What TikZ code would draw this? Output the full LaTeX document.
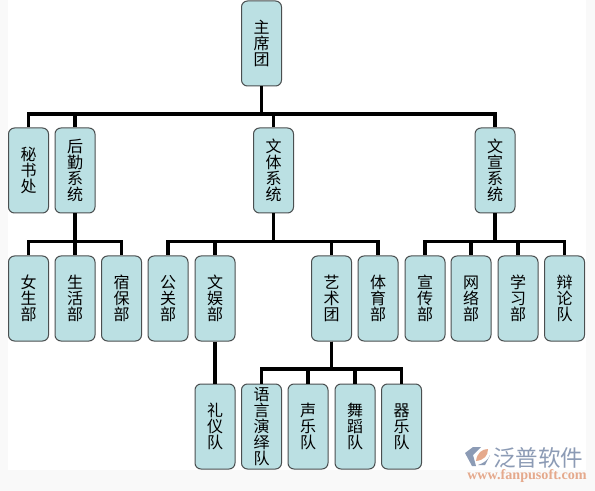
\documentclass[tikz,border=0pt]{standalone}
\usepackage{fontspec}
\setmainfont{Liberation Serif}
\newfontfamily\cjk{Noto Sans CJK SC}
\usetikzlibrary{arrows.meta}
\definecolor{boxfill}{HTML}{BBE0E3}
\definecolor{boxline}{HTML}{4A4F50}
\definecolor{pagegrey}{HTML}{F9F9F9}
\definecolor{logoblue}{HTML}{8C9BB5}
\definecolor{logopeach}{HTML}{E5A98C}
\tikzset{
  orgbox/.style={draw=boxline, fill=boxfill, line width=0.75pt, rounded corners=4.5pt, align=center, minimum width=30pt, minimum height=63.75pt, inner sep=0pt, text=black, font=\cjk\fontsize{12pt}{12pt}\selectfont},
  link/.style={line width=2.4pt, black},
  brandtext/.style={inner sep=0pt, anchor=west, text=logoblue, font=\cjk\fontsize{16.9pt}{18pt}\selectfont},
  urltext/.style={inner sep=0pt, anchor=west, text=logopeach, font=\bfseries\fontsize{10.6pt}{11pt}\selectfont},
}

\begin{document}
\begin{tikzpicture}[x=0.75pt, y=-0.75pt]
    \useasboundingbox (0,0) rectangle (595,491);
    \fill[pagegrey] (0,0) rectangle (595,491);
    \fill[white] (8,0) rectangle (586,470);

    \node[orgbox] (zhuxi) at (261.5,43.5) {主\\席\\团};

    \node[orgbox] (mishu) at (28.5,170.5) {秘\\书\\处};
    \node[orgbox] (houqin) at (75,170.5) {后\\勤\\系\\统};
    \node[orgbox] (wenti) at (273.5,170.5) {文\\体\\系\\统};
    \node[orgbox] (wenxuan) at (495,170.5) {文\\宣\\系\\统};

    \node[orgbox] (nvsheng) at (28.5,298.5) {女\\生\\部};
    \node[orgbox] (shenghuo) at (75,298.5) {生\\活\\部};
    \node[orgbox] (subao) at (121.5,298.5) {宿\\保\\部};
    \node[orgbox] (gongguan) at (168,298.5) {公\\关\\部};
    \node[orgbox] (wenyu) at (215,298.5) {文\\娱\\部};
    \node[orgbox] (yishu) at (331.5,298.5) {艺\\术\\团};
    \node[orgbox] (tiyu) at (378,298.5) {体\\育\\部};
    \node[orgbox] (xuanchuan) at (425,298.5) {宣\\传\\部};
    \node[orgbox] (wangluo) at (471,298.5) {网\\络\\部};
    \node[orgbox] (xuexi) at (518,298.5) {学\\习\\部};
    \node[orgbox] (bianlun) at (564.5,298.5) {辩\\论\\队};

    \node[orgbox] (liyi) at (215,426.5) {礼\\仪\\队};
    \node[orgbox] (yuyan) at (261.5,426.5) {语\\言\\演\\绎\\队};
    \node[orgbox] (shengyue) at (308,426.5) {声\\乐\\队};
    \node[orgbox] (wudao) at (355,426.5) {舞\\蹈\\队};
    \node[orgbox] (qiyue) at (401.5,426.5) {器\\乐\\队};

    \draw[link] (zhuxi.south) -- ++(0,27.5) -| (mishu.north);
    \draw[link] (zhuxi.south) -- ++(0,27.5) -| (houqin.north);
    \draw[link] (zhuxi.south) -- ++(0,27.5) -| (wenti.north);
    \draw[link] (zhuxi.south) -- ++(0,27.5) -| (wenxuan.north);

    \draw[link] (houqin.south) -- ++(0,28) -| (nvsheng.north);
    \draw[link] (houqin.south) -- (shenghuo.north);
    \draw[link] (houqin.south) -- ++(0,28) -| (subao.north);

    \draw[link] (wenti.south) -- ++(0,28) -| (gongguan.north);
    \draw[link] (wenti.south) -- ++(0,28) -| (wenyu.north);
    \draw[link] (wenti.south) -- ++(0,28) -| (yishu.north);
    \draw[link] (wenti.south) -- ++(0,28) -| (tiyu.north);

    \draw[link] (wenxuan.south) -- ++(0,28) -| (xuanchuan.north);
    \draw[link] (wenxuan.south) -- ++(0,28) -| (wangluo.north);
    \draw[link] (wenxuan.south) -- ++(0,28) -| (xuexi.north);
    \draw[link] (wenxuan.south) -- ++(0,28) -| (bianlun.north);

    \draw[link] (wenyu.south) -- (liyi.north);

    \draw[link] (yishu.south) -- ++(0,27.5) -| (yuyan.north);
    \draw[link] (yishu.south) -- ++(0,27.5) -| (shengyue.north);
    \draw[link] (yishu.south) -- ++(0,27.5) -| (wudao.north);
    \draw[link] (yishu.south) -- ++(0,27.5) -| (qiyue.north);

    % logo
    \fill[logoblue] (465,453) -- (473,447) -- (481,447) -- (473,455) -- (476,466) -- (472,466) -- cycle;
    \fill[logopeach] (476,461) .. controls (477,453) and (482,449) .. (488,449) .. controls (488,456) and (484,460) .. (476,461) -- cycle;
    \fill[logoblue] (478,465) -- (485,465) -- (490,455) .. controls (488,460) and (484,463) .. (478,465) -- cycle;
    \node[brandtext] (brand) at (493,458) {泛普软件};
    \node[urltext] (url) at (467,476) {www.fanpusoft.com};
  \end{tikzpicture}
\end{document}
